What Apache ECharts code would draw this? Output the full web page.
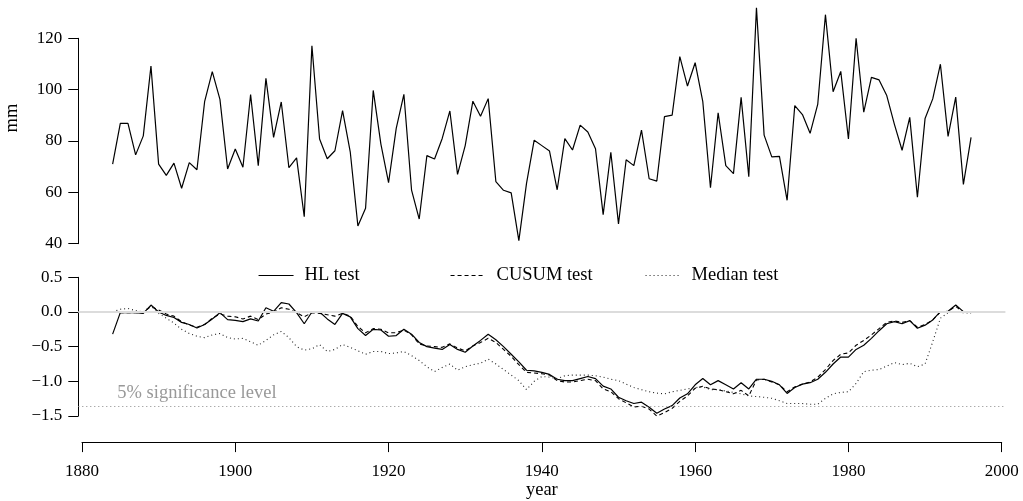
<!DOCTYPE html>
<html>
<head>
<meta charset="utf-8">
<script src="https://cdn.jsdelivr.net/npm/echarts@6/dist/echarts.min.js"></script>
<style>
  html, body { margin: 0; padding: 0; background: #fff; }
  #chart { width: 1023px; height: 501px; }
</style>
</head>
<body>
<div id="chart"></div>
<script>
// yearly series, first value is 1884
const firstYear = 1884
const rainfall = [
  71.0, 86.9, 86.9, 74.6, 82.0, 109.2,
  71.0, 66.6, 71.4, 61.6, 71.6, 68.8, 95.3, 107.0, 96.2, 69.1,
  76.9, 69.8, 98.1, 70.4, 104.4, 81.4, 95.2, 69.6, 73.4, 50.5,
  117.1, 80.8, 73.1, 76.2, 91.8, 75.8, 46.9, 53.8, 99.7, 78.8,
  63.8, 84.9, 98.2, 60.9, 49.6, 74.3, 73.0, 81.0, 91.7, 67.0,
  78.2, 95.5, 89.6, 96.5, 64.2, 60.8, 59.8, 41.2, 63.5, 80.3,
  78.2, 76.1, 61.0, 80.9, 76.5, 86.2, 83.5, 77.0, 51.3, 75.6,
  47.7, 72.7, 70.4, 84.2, 65.3, 64.4, 89.5, 90.1, 112.9, 101.4,
  110.5, 95.3, 61.8, 91.0, 70.4, 67.3, 97.0, 66.1, 131.9, 82.3,
  73.8, 74.0, 56.9, 93.8, 90.3, 83.0, 94.4, 129.2, 99.2, 107.1,
  80.8, 120.0, 91.2, 104.8, 103.8, 97.7, 86.5, 76.4, 89.2, 58.1,
  88.8, 96.4, 109.9, 81.8, 97.1, 63.1, 81.4
]
const hlTest = [
  -0.32, -0.01, -0.01, -0.01, -0.02, 0.10,
  0.0, -0.05, -0.08, -0.15, -0.18, -0.23, -0.18, -0.10, -0.01, -0.11,
  -0.12, -0.14, -0.10, -0.13, 0.06, 0.01, 0.135, 0.115, -0.01, -0.17,
  0.0, 0.0, -0.10, -0.18, -0.02, -0.07, -0.24, -0.34, -0.25, -0.26,
  -0.35, -0.34, -0.25, -0.32, -0.44, -0.50, -0.52, -0.54, -0.47, -0.54,
  -0.58, -0.49, -0.41, -0.32, -0.40, -0.50, -0.61, -0.72, -0.84, -0.85,
  -0.87, -0.90, -0.97, -0.99, -0.99, -0.96, -0.93, -0.96, -1.07, -1.11,
  -1.23, -1.28, -1.32, -1.30, -1.375, -1.46, -1.40, -1.35, -1.24, -1.18,
  -1.05, -0.96, -1.05, -0.99, -1.05, -1.11, -1.02, -1.11, -0.97, -0.97,
  -1.00, -1.05, -1.175, -1.09, -1.04, -1.02, -0.97, -0.87, -0.75, -0.65,
  -0.65, -0.54, -0.48, -0.38, -0.27, -0.17, -0.14, -0.17, -0.125, -0.235,
  -0.19, -0.115, 0.005, 0.01, 0.10, 0.005, 0.005
]
const cusumTest = [
  0.0, -0.01, -0.01, -0.01, -0.01, 0.08,
  0.03, -0.03, -0.06, -0.14, -0.19, -0.22, -0.18, -0.09, -0.03, -0.06,
  -0.07, -0.10, -0.06, -0.11, -0.03, 0.0, 0.06, 0.04, -0.01, -0.07,
  -0.01, -0.02, -0.04, -0.06, -0.02, -0.06, -0.21, -0.30, -0.24, -0.25,
  -0.30, -0.30, -0.26, -0.33, -0.46, -0.49, -0.50, -0.51, -0.46, -0.52,
  -0.56, -0.49, -0.44, -0.38, -0.44, -0.54, -0.64, -0.76, -0.87, -0.88,
  -0.89, -0.91, -0.99, -1.01, -1.01, -0.99, -0.97, -0.99, -1.11, -1.15,
  -1.25, -1.31, -1.37, -1.36, -1.40, -1.50, -1.45, -1.39, -1.29, -1.21,
  -1.10, -1.07, -1.11, -1.12, -1.15, -1.18, -1.13, -1.21, -0.98, -0.97,
  -1.01, -1.05, -1.15, -1.08, -1.04, -1.01, -0.94, -0.83, -0.70, -0.61,
  -0.59, -0.48, -0.41, -0.33, -0.24, -0.15, -0.13, -0.15, -0.125, -0.22,
  -0.18, -0.115, 0.0, 0.01, 0.08, 0.0, 0.0
]
const medianTest = [
  0.0, 0.04, 0.05, 0.02, 0.0, 0.09,
  -0.02, -0.09, -0.16, -0.25, -0.31, -0.35, -0.37, -0.33, -0.31, -0.37,
  -0.39, -0.38, -0.43, -0.48, -0.41, -0.33, -0.28, -0.37, -0.50, -0.55,
  -0.53, -0.47, -0.57, -0.54, -0.47, -0.51, -0.56, -0.61, -0.57, -0.57,
  -0.60, -0.59, -0.57, -0.63, -0.70, -0.79, -0.86, -0.80, -0.75, -0.84,
  -0.79, -0.76, -0.74, -0.68, -0.75, -0.83, -0.91, -0.99, -1.12, -1.00,
  -0.93, -0.94, -0.96, -0.92, -0.91, -0.91, -0.91, -0.92, -0.94, -0.97,
  -0.99, -1.04, -1.09, -1.12, -1.15, -1.17, -1.18, -1.15, -1.13, -1.11,
  -1.09, -1.08, -1.12, -1.12, -1.14, -1.16, -1.18, -1.21, -1.22, -1.23,
  -1.245, -1.28, -1.32, -1.32, -1.32, -1.33, -1.33, -1.245, -1.18, -1.16,
  -1.15, -1.03, -0.86, -0.84, -0.83, -0.78, -0.73, -0.76, -0.74, -0.79,
  -0.75, -0.43, -0.09, -0.01, 0.0, -0.01, -0.02
]
const sigLevel = -1.358
const legendNames = ['HL test', 'CUSUM test', 'Median test']

const serif = 'Liberation Serif'
const pairs = arr => arr.map((v, i) => [firstYear + i, v])
const minusFmt = v => v.toFixed(1).replace('-', '\u2212')

const chart = echarts.init(document.getElementById('chart'))

const yAxisCommon = {
  axisLine: { show: true, onZero: false, lineStyle: { color: '#000', width: 1 } },
  axisTick: { show: true, length: 10, lineStyle: { color: '#000' } },
  axisLabel: { color: '#000', fontFamily: serif, fontSize: 17, margin: 16 },
  splitLine: { show: false }
}

const legendCommon = {
  top: 261,
  itemWidth: 35,
  itemHeight: 14,
  itemStyle: { opacity: 0 },
  lineStyle: { width: 1.1 },
  textStyle: { fontFamily: serif, fontSize: 18.5, color: '#000', padding: [0, 0, 0, 6] }
}

chart.setOption({
  animation: false,
  backgroundColor: '#fff',
  grid: [
    { left: 78.3, right: 17.6, top: 38.3, height: 205.4 },
    { left: 78.3, right: 17.6, top: 277.3, height: 138.7 },
    { left: 82, right: 21.3, top: 277.3, height: 138.7 }
  ],
  xAxis: [
    { gridIndex: 0, type: 'value', min: 1879.52, max: 2000.48, show: false },
    { gridIndex: 1, type: 'value', min: 1879.52, max: 2000.48, show: false },
    {
      gridIndex: 2,
      type: 'value',
      min: 1880,
      max: 2000,
      interval: 20,
      offset: 28,
      name: 'year',
      nameLocation: 'middle',
      nameGap: 30,
      nameTextStyle: { fontFamily: serif, fontSize: 18.5, color: '#000' },
      axisLine: { show: true, onZero: false, lineStyle: { color: '#000', width: 1 } },
      axisTick: { show: true, length: 10, lineStyle: { color: '#000' } },
      axisLabel: { color: '#000', fontFamily: serif, fontSize: 17, margin: 21, formatter: v => String(v) },
      splitLine: { show: false }
    }
  ],
  yAxis: [
    Object.assign({ gridIndex: 0, type: 'value', min: 40, max: 120, interval: 20 }, yAxisCommon),
    Object.assign({}, yAxisCommon, {
      gridIndex: 1, type: 'value', min: -1.5, max: 0.5, interval: 0.5,
      axisLabel: Object.assign({}, yAxisCommon.axisLabel, { formatter: minusFmt })
    }),
    { gridIndex: 2, type: 'value', min: -1.5, max: 0.5, show: false }
  ],
  legend: [
    Object.assign({ left: 253, data: [legendNames[0]] }, legendCommon),
    Object.assign({ left: 445, data: [legendNames[1]] }, legendCommon),
    Object.assign({ left: 640, data: [legendNames[2]] }, legendCommon)
  ],
  graphic: [
    {
      type: 'text',
      x: 12.5,
      y: 118,
      rotation: Math.PI / 2,
      style: { text: 'mm', align: 'center', verticalAlign: 'middle', fontFamily: serif, fontSize: 18.5, fill: '#000' }
    }
  ],
  series: [
    {
      name: 'rainfall',
      type: 'line',
      xAxisIndex: 0,
      yAxisIndex: 0,
      data: pairs(rainfall),
      symbol: 'none',
      clip: false,
      lineStyle: { color: '#000', width: 1.2 }
    },
    {
      name: 'reference',
      type: 'line',
      xAxisIndex: 1,
      yAxisIndex: 1,
      data: [],
      z: 1,
      markLine: {
        silent: true,
        symbol: 'none',
        data: [
          { yAxis: 0, lineStyle: { color: '#dcdcdc', width: 2, type: 'solid' }, label: { show: false } },
          {
            yAxis: sigLevel,
            lineStyle: { color: '#888', width: 1, type: [1, 3] },
            label: {
              show: true,
              position: 'insideStartTop',
              distance: [39, 4],
              formatter: '5% significance level',
              color: '#999',
              fontFamily: serif,
              fontSize: 18.5
            }
          }
        ]
      }
    },
    {
      name: legendNames[0],
      type: 'line',
      xAxisIndex: 1,
      yAxisIndex: 1,
      data: pairs(hlTest),
      symbol: 'none',
      z: 3,
      lineStyle: { color: '#000', width: 1.2 },
      itemStyle: { color: '#000' }
    },
    {
      name: legendNames[1],
      type: 'line',
      xAxisIndex: 1,
      yAxisIndex: 1,
      data: pairs(cusumTest),
      symbol: 'none',
      z: 3,
      lineStyle: { color: '#000', width: 1.1, type: [4, 3] },
      itemStyle: { color: '#000' }
    },
    {
      name: legendNames[2],
      type: 'line',
      xAxisIndex: 1,
      yAxisIndex: 1,
      data: pairs(medianTest),
      symbol: 'none',
      z: 3,
      lineStyle: { color: '#222', width: 1.1, type: [1, 3] },
      itemStyle: { color: '#222' }
    }
  ]
})
</script>
</body>
</html>
